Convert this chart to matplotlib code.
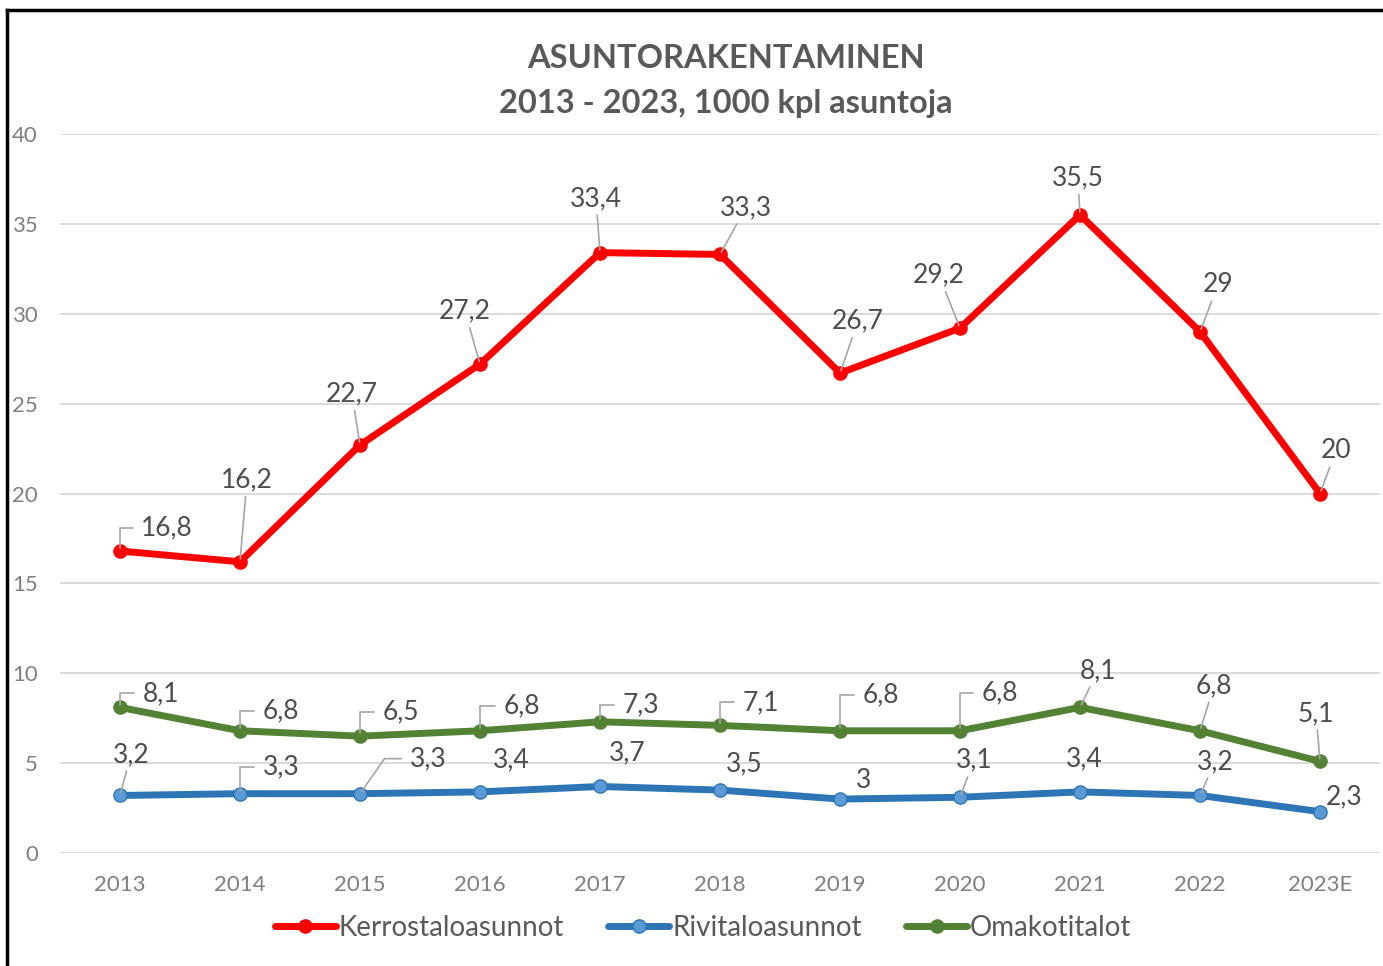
import matplotlib
matplotlib.use("Agg")
import matplotlib.pyplot as plt
from matplotlib.lines import Line2D

plt.rcParams['font.family'] = ['Lato', 'DejaVu Sans']

years = ["2013", "2014", "2015", "2016", "2017", "2018", "2019", "2020", "2021", "2022", "2023E"]
kerrostalo = [16.8, 16.2, 22.7, 27.2, 33.4, 33.3, 26.7, 29.2, 35.5, 29, 20]
rivitalo = [3.2, 3.3, 3.3, 3.4, 3.7, 3.5, 3, 3.1, 3.4, 3.2, 2.3]
omakoti = [8.1, 6.8, 6.5, 6.8, 7.3, 7.1, 6.8, 6.8, 8.1, 6.8, 5.1]
yticks = [0, 5, 10, 15, 20, 25, 30, 35, 40]

# label offsets in pixels (dx, dy) and leader kind: a = angled, b = slanted+horizontal, s = straight, n = none
red_off = [(47, 23), (7, 82), (-8, 51), (-15, 53), (-4, 54), (26, 47), (18, 52), (-21, 53), (-2, 37), (18, 47), (16, 43)]
red_kind = ['a', 's', 's', 's', 's', 's', 's', 's', 's', 's', 's']
green_off = [(41, 14), (41, 20), (41, 24), (42, 25), (41, 17), (41, 23), (41, 36), (40, 38), (18, 37), (14, 45), (-4, 48)]
green_kind = ['a', 'a', 'a', 'a', 'a', 'a', 'a', 'a', 's', 's', 's']
blue_off = [(11, 41), (41, 27), (68, 35), (31, 32), (27, 34), (24, 26), (24, 19), (14, 37), (4, 33), (15, 34), (24, 15)]
blue_kind = ['s', 'a', 'b', 'n', 'n', 'n', 'n', 's', 'n', 's', 'n']

fig = plt.figure(figsize=(13.83, 9.66), dpi=100)
ax = fig.add_axes([60 / 1383, 113 / 966, 1320 / 1383, 719 / 966])

x = list(range(len(years)))
series = [
    ("Kerrostaloasunnot", kerrostalo, "#FF0000", "#FF0000", red_off, red_kind),
    ("Rivitaloasunnot", rivitalo, "#2E75B6", "#5B9BD5", blue_off, blue_kind),
    ("Omakotitalot", omakoti, "#548235", "#548235", green_off, green_kind),
]

for name, vals, col, mcol, offs, kinds in series:
    ax.plot(x, vals, color=col, lw=5, marker='o', ms=9.5, mfc=mcol, mec=col,
            mew=1, label=name, zorder=3, solid_capstyle='round')
    for i, v in enumerate(vals):
        lab = str(v).replace('.', ',')
        if float(v).is_integer():
            lab = str(int(v))
        dx, dy = offs[i]
        k = kinds[i]
        if k == 'a':
            ap = dict(arrowstyle='-', color='#A6A6A6', lw=1.2, shrinkA=4, shrinkB=2,
                      connectionstyle='angle,angleA=0,angleB=90,rad=0', relpos=(0, 0.5))
        elif k == 'b':
            ap = dict(arrowstyle='-', color='#A6A6A6', lw=1.2, shrinkA=4, shrinkB=2,
                      connectionstyle='angle,angleA=0,angleB=55,rad=0', relpos=(0, 0.5))
        elif k == 's':
            ap = dict(arrowstyle='-', color='#A6A6A6', lw=1.2, shrinkA=1, shrinkB=2)
        else:
            ap = None
        ax.annotate(lab, xy=(i, v), xytext=(dx, dy), textcoords='offset pixels',
                    ha='center', va='center', fontsize=19, color='#4D4D4D',
                    arrowprops=ap, zorder=4)

ax.set_xlim(-0.5, len(years) - 0.5)
ax.set_ylim(0, 40)
ax.set_yticks(yticks)
ax.set_xticks(x)
ax.set_xticklabels(years)
ax.grid(axis='y', color='#D9D9D9', lw=1.3)
ax.set_axisbelow(True)
for s in ax.spines.values():
    s.set_visible(False)
ax.tick_params(length=0, labelsize=16, labelcolor='#7F7F7F')
ax.tick_params(axis='y', pad=16)
ax.tick_params(axis='x', pad=16)

fig.text(726 / 1383, 1 - 59 / 966, "ASUNTORAKENTAMINEN", ha='center', va='center',
         fontsize=23.5, fontweight='bold', color='#595959')
fig.text(726 / 1383, 1 - 104 / 966, "2013 - 2023, 1000 kpl asuntoja", ha='center', va='center',
         fontsize=23.5, fontweight='bold', color='#595959')

leg = ax.legend(loc='center', bbox_to_anchor=(703 / 1383, 1 - 928 / 966),
                bbox_transform=fig.transFigure, ncol=3, frameon=False,
                fontsize=20, handlelength=2.2, handletextpad=0.1, columnspacing=1.6,
                labelcolor='#595959')

# outer frame (left and top edges visible)
fig.add_artist(Line2D([7 / 1383, 7 / 1383], [0, 1 - 10 / 966], transform=fig.transFigure,
                      color='black', lw=2.5))
fig.add_artist(Line2D([7 / 1383, 1], [1 - 10 / 966, 1 - 10 / 966], transform=fig.transFigure,
                      color='black', lw=2.5))

fig.savefig("out.png", dpi=100)
